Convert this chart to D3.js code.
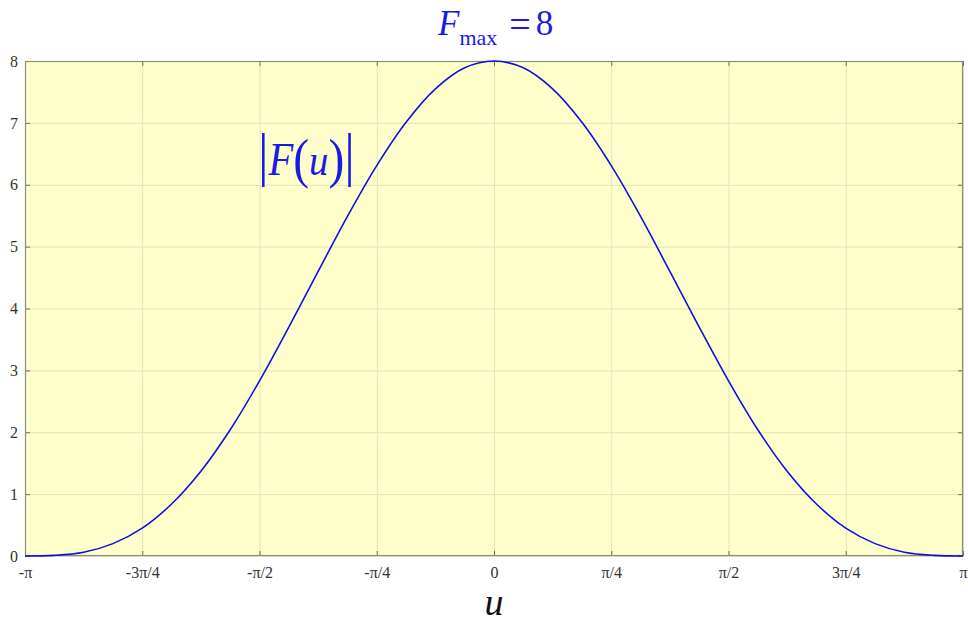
<!DOCTYPE html>
<html>
<head>
<meta charset="utf-8">
<script src="https://cdn.jsdelivr.net/npm/d3@7"></script>
<style>
  html, body { margin: 0; padding: 0; background: #fff; }
  svg { display: block; }
</style>
</head>
<body>
<svg id="chart" width="968" height="628"></svg>
<script>
// Magnitude response sampled at multiples of pi/16 over [0, pi]; the curve is symmetric.
const stepsPos = [0, 1, 2, 3, 4, 5, 6, 7, 8, 9, 10, 11, 12, 13, 14, 15, 16];
const magPos = [8.00, 7.89, 7.55, 7.01, 6.31, 5.49, 4.60, 3.70, 2.83, 2.04, 1.37, 0.84, 0.45, 0.20, 0.06, 0.01, 0.00];

const xTickValues = [-1, -0.75, -0.5, -0.25, 0, 0.25, 0.5, 0.75, 1];
const xTickLabels = ["-\u03c0", "-3\u03c0/4", "-\u03c0/2", "-\u03c0/4", "0", "\u03c0/4", "\u03c0/2", "3\u03c0/4", "\u03c0"];
const yTickValues = [0, 1, 2, 3, 4, 5, 6, 7, 8];

// full symmetric series, u in units of pi
const points = [];
for (let i = stepsPos.length - 1; i > 0; i--) points.push({ u: -stepsPos[i] / 16, v: magPos[i] });
for (let i = 0; i < stepsPos.length; i++) points.push({ u: stepsPos[i] / 16, v: magPos[i] });

const svg = d3.select("#chart");
const L = 25, R = 963, T = 61, B = 556;

const x = d3.scaleLinear().domain([-1, 1]).range([L, R]);
const y = d3.scaleLinear().domain([0, 8]).range([B, T]);

const serif = "'Liberation Serif', 'Times New Roman', serif";
const blue = "#1a1ae6";

// plot background
svg.append("rect").attr("x", L).attr("y", T).attr("width", R - L).attr("height", B - T)
  .attr("fill", "#ffffcc");

// grid
const grid = svg.append("g").attr("stroke", "#e2e2bd").attr("stroke-width", 1);
xTickValues.forEach(t => {
  grid.append("line").attr("x1", x(t) + 0.5).attr("x2", x(t) + 0.5).attr("y1", T).attr("y2", B);
});
yTickValues.forEach(t => {
  grid.append("line").attr("x1", L).attr("x2", R).attr("y1", y(t) + 0.5).attr("y2", y(t) + 0.5);
});

// axes: inward ticks on all four sides
const tickColor = "#6f6f60";
const xAxis = d3.axisBottom(x).tickValues(xTickValues).tickFormat((d, i) => xTickLabels[i])
  .tickSizeInner(-5).tickSizeOuter(0).tickPadding(11);
const xAxisTop = d3.axisTop(x).tickValues(xTickValues).tickFormat("").tickSizeInner(-5).tickSizeOuter(0);
const yAxis = d3.axisLeft(y).tickValues(yTickValues).tickFormat(d3.format("d"))
  .tickSizeInner(-5).tickSizeOuter(0).tickPadding(7);
const yAxisRight = d3.axisRight(y).tickValues(yTickValues).tickFormat("").tickSizeInner(-5).tickSizeOuter(0);

function styleAxis(g) {
  g.select(".domain").remove();
  g.selectAll(".tick line").attr("stroke", tickColor);
  g.selectAll(".tick text").attr("fill", "#333").attr("font-family", serif).attr("font-size", 16);
}
svg.append("g").attr("transform", `translate(0,${B})`).call(xAxis).call(styleAxis);
svg.append("g").attr("transform", `translate(0,${T})`).call(xAxisTop).call(styleAxis);
svg.append("g").attr("transform", `translate(${L},0)`).call(yAxis).call(styleAxis);
svg.append("g").attr("transform", `translate(${R},0)`).call(yAxisRight).call(styleAxis);

// frame
svg.append("rect").attr("x", L + 0.5).attr("y", T + 0.5).attr("width", R - L - 1).attr("height", B - T - 1)
  .attr("fill", "none").attr("stroke", "#8c8c7c").attr("stroke-width", 1.2);

// magnitude curve
const line = d3.line().x(d => x(d.u)).y(d => y(d.v)).curve(d3.curveCatmullRom.alpha(0.5));
svg.append("path").datum(points).attr("d", line)
  .attr("fill", "none").attr("stroke", "#1010e0").attr("stroke-width", 1.6);

// title F_max = 8, one text element with sized / shifted runs
const title = svg.append("text").attr("x", 438).attr("y", 35)
  .attr("font-family", serif).attr("fill", blue).attr("font-size", 35);
title.append("tspan").attr("font-style", "italic").text("F");
title.append("tspan").attr("font-size", 22).attr("dy", 10).text("max");
title.append("tspan").attr("font-size", 38).attr("dx", 12).attr("dy", -8).text("=");
title.append("tspan").attr("dx", 5).attr("dy", -2).text("8");

// curve label |F(u)|, set slightly condensed
const lab = svg.append("text").attr("x", 0).attr("y", 174)
  .attr("transform", "translate(258,0) scale(0.88,1)")
  .attr("font-family", serif).attr("fill", blue).attr("font-size", 44);
lab.append("tspan").attr("font-size", 60).text("|");
lab.append("tspan").attr("font-style", "italic").attr("font-size", 46).attr("dy", 1).text("F");
lab.append("tspan").attr("font-size", 54).attr("dy", 2).text("(");
lab.append("tspan").attr("font-style", "italic").attr("dy", -2).text("u");
lab.append("tspan").attr("font-size", 54).attr("dy", 2).text(")");
lab.append("tspan").attr("font-size", 60).attr("dy", -3).text("|");

// x-axis label
svg.append("text").attr("x", 494).attr("y", 615).attr("text-anchor", "middle")
  .attr("font-family", serif).attr("font-style", "italic").attr("font-size", 38).attr("fill", "#111")
  .text("u");
</script>
</body>
</html>
